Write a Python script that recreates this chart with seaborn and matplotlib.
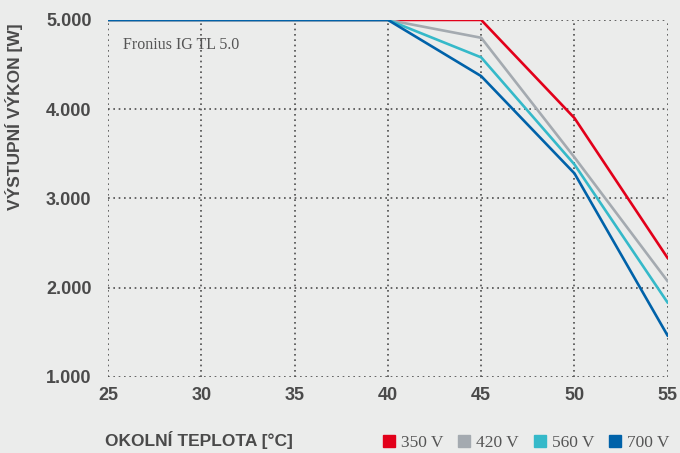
import pandas as pd
import matplotlib
matplotlib.use('Agg')
import matplotlib.pyplot as plt
from matplotlib.lines import Line2D
import seaborn as sns

# Data
teplota = [25, 30, 35, 40, 45, 50, 55]
vykon_350 = [5000, 5000, 5000, 5000, 5000, 3900, 2330]
vykon_420 = [5000, 5000, 5000, 5000, 4800, 3460, 2070]
vykon_560 = [5000, 5000, 5000, 5000, 4580, 3380, 1830]
vykon_700 = [5000, 5000, 5000, 5000, 4370, 3280, 1460]
napeti = ['350 V', '420 V', '560 V', '700 V']
barvy = ['#e2001a', '#a4aab0', '#35b9c9', '#0062a9']

rady = [vykon_350, vykon_420, vykon_560, vykon_700]
df = pd.concat([pd.DataFrame({'teplota': teplota, 'vykon': r, 'napeti': n})
                for r, n in zip(rady, napeti)])

sns.set_style('white')
plt.rcParams['font.family'] = ['Liberation Sans', 'DejaVu Sans']
pozadi = '#ebeceb'
seda = '#4a4a4a'

fig = plt.figure(figsize=(6.8, 4.53), dpi=100, facecolor=pozadi)
ax = fig.add_axes([0.159, 0.168, 0.823, 0.788], facecolor=pozadi)

sns.lineplot(ax=ax, data=df, x='teplota', y='vykon', hue='napeti',
             palette=dict(zip(napeti, barvy)), linewidth=1.9, legend=False)

ax.set_xlim(25, 55)
ax.set_ylim(1000, 5000)
ax.set_xticks(range(25, 56, 5))
ax.set_yticks(range(1000, 5001, 1000))
ax.set_yticklabels([f'{v:,}'.replace(',', '.') for v in range(1000, 5001, 1000)])
ax.grid(True, linestyle=(0, (1, 2.2)), color='#4d4d4d', linewidth=1.2)
ax.set_axisbelow(True)
for s in ax.spines.values():
    s.set_visible(False)
ax.tick_params(length=0, labelsize=13, labelcolor=seda)
ax.tick_params(axis='x', pad=7)
ax.tick_params(axis='y', pad=12)
for lab in ax.get_xticklabels() + ax.get_yticklabels():
    lab.set_fontweight('bold')
ax.set_xlabel('')
ax.set_ylabel('')

ax.text(0.027, 0.93, 'Fronius IG TL 5.0', transform=ax.transAxes, fontsize=11.5,
        color='#555555', family='Liberation Serif', va='center')

fig.text(0.155, 0.028, 'OKOLNÍ TEPLOTA [°C]', fontsize=12.5, fontweight='bold',
         color=seda, ha='left', va='center')
fig.text(0.021, 0.742, 'VÝSTUPNÍ VÝKON [W]', fontsize=12.5, fontweight='bold',
         color=seda, rotation=90, ha='center', va='center')

handles = [Line2D([], [], marker='s', linestyle='', markersize=9, color=c) for c in barvy]
leg = fig.legend(handles, napeti, loc='center right', bbox_to_anchor=(1.008, 0.022),
                 ncol=4, frameon=False, handletextpad=0.2, columnspacing=0.7,
                 prop={'family': 'Liberation Serif', 'size': 12.5}, handlelength=1)
for t in leg.get_texts():
    t.set_color('#555555')

fig.savefig('out.png', dpi=100, facecolor=pozadi)
